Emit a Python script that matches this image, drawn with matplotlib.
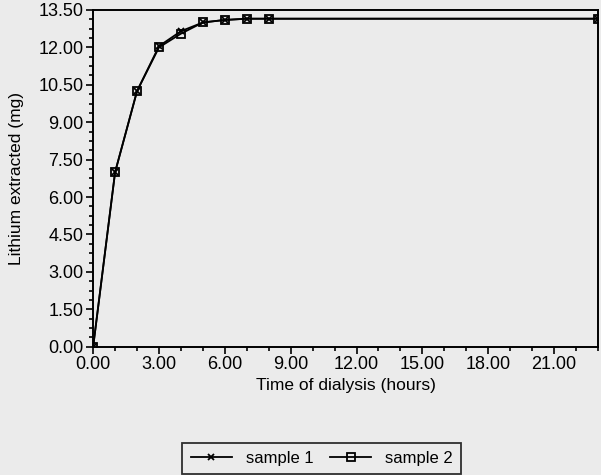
import numpy as np
import matplotlib.pyplot as plt
from matplotlib.ticker import MultipleLocator

# time of dialysis (hours) and lithium extracted (mg)
hours = [0, 1, 2, 3, 4, 5, 6, 7, 8, 23]
sample1 = [0.0, 7.0, 10.25, 12.05, 12.65, 13.0, 13.1, 13.15, 13.15, 13.15]
sample2 = [0.0, 7.0, 10.25, 12.0, 12.55, 13.0, 13.1, 13.15, 13.15, 13.15]

xticks = [0, 3, 6, 9, 12, 15, 18, 21]
yticks = [0, 1.5, 3, 4.5, 6, 7.5, 9, 10.5, 12, 13.5]

plt.rcParams['font.family'] = ['Liberation Sans', 'DejaVu Sans']

bg = '#ebebeb'
fig = plt.figure(figsize=(6.01, 4.75), dpi=100, facecolor=bg)
ax = fig.add_axes([0.155, 0.27, 0.84, 0.709], facecolor=bg)

ax.plot(hours, sample1, color='black', lw=1.3, marker='x', ms=5, mew=1.3,
        label='sample 1')
ax.plot(hours, sample2, color='black', lw=1.3, marker='s', ms=6, mew=1.3,
        mfc='none', label='sample 2')

ax.set_xlim(0, 23)
ax.set_ylim(0, 13.5)
ax.set_xticks(xticks)
ax.set_xticklabels([f'{t:.2f}' for t in xticks])
ax.set_yticks(yticks)
ax.set_yticklabels([f'{t:.2f}' for t in yticks])
ax.xaxis.set_minor_locator(MultipleLocator(1))
ax.yaxis.set_minor_locator(MultipleLocator(0.375))
ax.tick_params(which='both', direction='out', labelsize=13, width=1.2, pad=2)
ax.tick_params(which='major', length=5)
ax.tick_params(which='minor', length=3)

for s in ax.spines.values():
    s.set_linewidth(1.4)

ax.set_xlabel('Time of dialysis (hours)', fontsize=12.5, labelpad=3)
ax.set_ylabel('Lithium extracted (mg)', fontsize=12.5, labelpad=10)

leg = fig.legend(loc='center', bbox_to_anchor=(0.535, 0.035), ncol=2,
                 fontsize=12, frameon=True, fancybox=False, edgecolor='black',
                 facecolor=bg, handlelength=2.5, columnspacing=1.0,
                 borderpad=0.5)
leg.get_frame().set_linewidth(1.3)

fig.savefig('out.png', dpi=100, facecolor=bg)
